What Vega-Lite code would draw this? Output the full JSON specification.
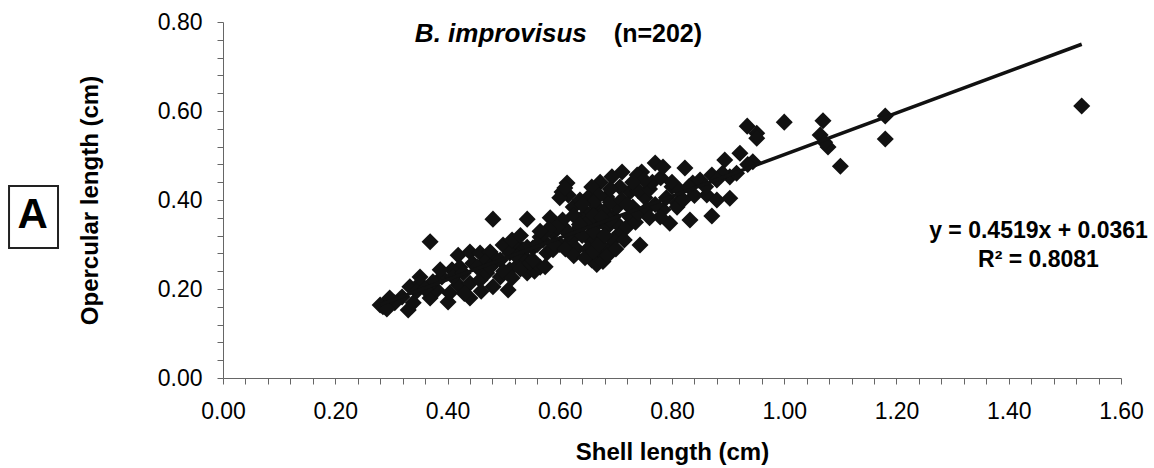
{
  "$schema": "https://vega.github.io/schema/vega-lite/v6.json",
  "width": 898,
  "height": 356,
  "autosize": {"type": "none"},
  "padding": {"left": 223, "top": 22, "right": 33, "bottom": 90},
  "background": "white",
  "config": {
    "view": {"stroke": null},
    "font": "Liberation Sans",
    "axis": {
      "grid": false,
      "domainColor": "#666",
      "tickColor": "#666",
      "domainWidth": 1,
      "tickWidth": 1,
      "tickSize": 6,
      "labelFont": "Liberation Sans",
      "labelFontSize": 23,
      "labelColor": "#000",
      "titleFont": "Liberation Sans",
      "titleFontSize": 24,
      "titleFontWeight": "bold",
      "titleColor": "#000",
      "labelFlush": false,
      "labelOverlap": false
    }
  },
  "datasets": {
    "points": [
      {"shell": 0.481, "operc": 0.357}, {"shell": 0.542, "operc": 0.357}, {"shell": 0.369, "operc": 0.306},
      {"shell": 0.419, "operc": 0.276}, {"shell": 0.44, "operc": 0.283}, {"shell": 0.458, "operc": 0.281},
      {"shell": 0.476, "operc": 0.283}, {"shell": 0.499, "operc": 0.299}, {"shell": 0.524, "operc": 0.299},
      {"shell": 0.535, "operc": 0.288}, {"shell": 0.511, "operc": 0.281}, {"shell": 0.488, "operc": 0.265},
      {"shell": 0.467, "operc": 0.261}, {"shell": 0.445, "operc": 0.258}, {"shell": 0.422, "operc": 0.249},
      {"shell": 0.408, "operc": 0.243}, {"shell": 0.39, "operc": 0.227}, {"shell": 0.351, "operc": 0.227},
      {"shell": 0.333, "operc": 0.205}, {"shell": 0.319, "operc": 0.182}, {"shell": 0.285, "operc": 0.16},
      {"shell": 0.28, "operc": 0.164}, {"shell": 0.33, "operc": 0.153}, {"shell": 0.369, "operc": 0.18},
      {"shell": 0.381, "operc": 0.198}, {"shell": 0.401, "operc": 0.171}, {"shell": 0.404, "operc": 0.191},
      {"shell": 0.419, "operc": 0.209}, {"shell": 0.44, "operc": 0.213}, {"shell": 0.44, "operc": 0.18},
      {"shell": 0.458, "operc": 0.22}, {"shell": 0.47, "operc": 0.236}, {"shell": 0.481, "operc": 0.205},
      {"shell": 0.494, "operc": 0.227}, {"shell": 0.508, "operc": 0.198}, {"shell": 0.511, "operc": 0.243},
      {"shell": 0.526, "operc": 0.254}, {"shell": 0.542, "operc": 0.236}, {"shell": 0.306, "operc": 0.169},
      {"shell": 0.339, "operc": 0.169}, {"shell": 0.297, "operc": 0.18}, {"shell": 0.351, "operc": 0.213},
      {"shell": 0.374, "operc": 0.216}, {"shell": 0.387, "operc": 0.243}, {"shell": 0.41, "operc": 0.227},
      {"shell": 0.428, "operc": 0.236}, {"shell": 0.453, "operc": 0.249}, {"shell": 0.476, "operc": 0.249},
      {"shell": 0.494, "operc": 0.265}, {"shell": 0.524, "operc": 0.272}, {"shell": 0.542, "operc": 0.265},
      {"shell": 0.292, "operc": 0.155}, {"shell": 0.345, "operc": 0.195}, {"shell": 0.36, "operc": 0.2},
      {"shell": 0.43, "operc": 0.19}, {"shell": 0.46, "operc": 0.195}, {"shell": 0.5, "operc": 0.24},
      {"shell": 0.515, "operc": 0.225}, {"shell": 0.53, "operc": 0.245}, {"shell": 0.55, "operc": 0.255},
      {"shell": 0.555, "operc": 0.24}, {"shell": 0.515, "operc": 0.31}, {"shell": 0.53, "operc": 0.32},
      {"shell": 0.77, "operc": 0.483}, {"shell": 0.746, "operc": 0.463}, {"shell": 0.738, "operc": 0.456},
      {"shell": 0.711, "operc": 0.463}, {"shell": 0.693, "operc": 0.452}, {"shell": 0.672, "operc": 0.44},
      {"shell": 0.657, "operc": 0.429}, {"shell": 0.65, "operc": 0.405}, {"shell": 0.613, "operc": 0.438},
      {"shell": 0.604, "operc": 0.418}, {"shell": 0.615, "operc": 0.411}, {"shell": 0.6, "operc": 0.405},
      {"shell": 0.583, "operc": 0.36}, {"shell": 0.743, "operc": 0.299}, {"shell": 0.796, "operc": 0.348},
      {"shell": 0.784, "operc": 0.378}, {"shell": 0.752, "operc": 0.405}, {"shell": 0.725, "operc": 0.418},
      {"shell": 0.707, "operc": 0.429}, {"shell": 0.684, "operc": 0.407}, {"shell": 0.666, "operc": 0.384},
      {"shell": 0.648, "operc": 0.37}, {"shell": 0.641, "operc": 0.355}, {"shell": 0.668, "operc": 0.348},
      {"shell": 0.695, "operc": 0.362}, {"shell": 0.707, "operc": 0.326}, {"shell": 0.677, "operc": 0.317},
      {"shell": 0.654, "operc": 0.31}, {"shell": 0.672, "operc": 0.281}, {"shell": 0.657, "operc": 0.265},
      {"shell": 0.689, "operc": 0.294}, {"shell": 0.631, "operc": 0.333}, {"shell": 0.606, "operc": 0.34},
      {"shell": 0.588, "operc": 0.326}, {"shell": 0.57, "operc": 0.31}, {"shell": 0.577, "operc": 0.281},
      {"shell": 0.552, "operc": 0.292}, {"shell": 0.547, "operc": 0.258}, {"shell": 0.565, "operc": 0.249},
      {"shell": 0.666, "operc": 0.255}, {"shell": 0.677, "operc": 0.262}, {"shell": 0.8, "operc": 0.43},
      {"shell": 0.79, "operc": 0.405}, {"shell": 0.809, "operc": 0.393}, {"shell": 0.779, "operc": 0.362},
      {"shell": 0.725, "operc": 0.362}, {"shell": 0.73, "operc": 0.384}, {"shell": 0.702, "operc": 0.384},
      {"shell": 0.624, "operc": 0.384}, {"shell": 0.636, "operc": 0.4}, {"shell": 0.609, "operc": 0.427},
      {"shell": 0.542, "operc": 0.294}, {"shell": 0.565, "operc": 0.317}, {"shell": 0.588, "operc": 0.288},
      {"shell": 0.552, "operc": 0.265}, {"shell": 0.574, "operc": 0.25},
      {"shell": 0.6, "operc": 0.3}, {"shell": 0.62, "operc": 0.31}, {"shell": 0.63, "operc": 0.29},
      {"shell": 0.615, "operc": 0.325}, {"shell": 0.64, "operc": 0.32}, {"shell": 0.66, "operc": 0.33},
      {"shell": 0.65, "operc": 0.29}, {"shell": 0.685, "operc": 0.34}, {"shell": 0.7, "operc": 0.35},
      {"shell": 0.695, "operc": 0.31}, {"shell": 0.72, "operc": 0.34}, {"shell": 0.715, "operc": 0.31},
      {"shell": 0.735, "operc": 0.35}, {"shell": 0.74, "operc": 0.37}, {"shell": 0.755, "operc": 0.38},
      {"shell": 0.76, "operc": 0.36}, {"shell": 0.77, "operc": 0.39}, {"shell": 0.68, "operc": 0.375},
      {"shell": 0.69, "operc": 0.395}, {"shell": 0.71, "operc": 0.4}, {"shell": 0.72, "operc": 0.39},
      {"shell": 0.74, "operc": 0.42}, {"shell": 0.76, "operc": 0.425}, {"shell": 0.765, "operc": 0.44},
      {"shell": 0.78, "operc": 0.45}, {"shell": 0.75, "operc": 0.445}, {"shell": 0.73, "operc": 0.44},
      {"shell": 0.69, "operc": 0.425}, {"shell": 0.67, "operc": 0.41}, {"shell": 0.66, "operc": 0.395},
      {"shell": 0.64, "operc": 0.39}, {"shell": 0.625, "operc": 0.365}, {"shell": 0.605, "operc": 0.355},
      {"shell": 0.595, "operc": 0.34}, {"shell": 0.58, "operc": 0.335}, {"shell": 0.565, "operc": 0.33},
      {"shell": 0.56, "operc": 0.3}, {"shell": 0.59, "operc": 0.3}, {"shell": 0.61, "operc": 0.29},
      {"shell": 0.625, "operc": 0.275}, {"shell": 0.645, "operc": 0.27}, {"shell": 0.66, "operc": 0.285},
      {"shell": 0.67, "operc": 0.3}, {"shell": 0.685, "operc": 0.275}, {"shell": 0.7, "operc": 0.29},
      {"shell": 0.68, "operc": 0.32}, {"shell": 0.69, "operc": 0.355}, {"shell": 0.65, "operc": 0.35},
      {"shell": 0.635, "operc": 0.345}, {"shell": 0.66, "operc": 0.365}, {"shell": 0.675, "operc": 0.36},
      {"shell": 0.934, "operc": 0.566}, {"shell": 0.951, "operc": 0.55}, {"shell": 0.951, "operc": 0.539},
      {"shell": 1.0, "operc": 0.575}, {"shell": 0.921, "operc": 0.505}, {"shell": 0.894, "operc": 0.49},
      {"shell": 0.944, "operc": 0.486}, {"shell": 0.871, "operc": 0.456}, {"shell": 0.823, "operc": 0.472},
      {"shell": 0.903, "operc": 0.452}, {"shell": 0.862, "operc": 0.411}, {"shell": 0.88, "operc": 0.4},
      {"shell": 0.903, "operc": 0.404}, {"shell": 0.832, "operc": 0.355}, {"shell": 0.871, "operc": 0.364},
      {"shell": 0.809, "operc": 0.384}, {"shell": 0.784, "operc": 0.474}, {"shell": 0.8, "operc": 0.44},
      {"shell": 0.837, "operc": 0.438}, {"shell": 0.85, "operc": 0.445}, {"shell": 0.814, "operc": 0.422},
      {"shell": 0.89, "operc": 0.46}, {"shell": 0.86, "operc": 0.43}, {"shell": 0.84, "operc": 0.41},
      {"shell": 0.82, "operc": 0.4}, {"shell": 0.915, "operc": 0.46}, {"shell": 0.935, "operc": 0.48},
      {"shell": 0.88, "operc": 0.445}, {"shell": 0.83, "operc": 0.43},
      {"shell": 1.069, "operc": 0.578}, {"shell": 1.064, "operc": 0.546}, {"shell": 1.078, "operc": 0.519},
      {"shell": 1.1, "operc": 0.476}, {"shell": 1.18, "operc": 0.589}, {"shell": 1.18, "operc": 0.537},
      {"shell": 1.072, "operc": 0.53}, {"shell": 1.53, "operc": 0.611}
    ],
    "fit": [
      {"shell": 0.28, "operc": 0.165},
      {"shell": 1.53, "operc": 0.75}
    ]
  },
  "layer": [
    {
      "data": {"name": "points"},
      "mark": {"type": "point", "shape": "diamond", "filled": true, "size": 290, "color": "#111", "opacity": 1, "clip": false},
      "encoding": {
        "x": {
          "field": "shell", "type": "quantitative",
          "scale": {"domain": [0, 1.6], "nice": false, "zero": true},
          "axis": {
            "title": "Shell length (cm)",
            "values": [0, 0.04, 0.08, 0.12, 0.16, 0.2, 0.24, 0.28, 0.32, 0.36, 0.4, 0.44, 0.48, 0.52, 0.56, 0.6, 0.64, 0.68, 0.72, 0.76, 0.8, 0.84, 0.88, 0.92, 0.96, 1.0, 1.04, 1.08, 1.12, 1.16, 1.2, 1.24, 1.28, 1.32, 1.36, 1.4, 1.44, 1.48, 1.52, 1.56, 1.6],
            "tickCount": 200,
            "labelExpr": "abs(datum.value*5 - round(datum.value*5)) < 0.001 ? format(datum.value, '.2f') : ''",
            "labelOverlap": false,
            "labelFlush": false,
            "tickSize": 6,
            "labelPadding": 16,
            "titlePadding": 17,
            "encode": {
              "ticks": {
                "update": {
                  "y": {"signal": "abs(datum.value*5 - round(datum.value*5)) < 0.001 ? -5 : 0"},
                  "y2": {"signal": "abs(datum.value*5 - round(datum.value*5)) < 0.001 ? 6 : -5"}
                }
              }
            }
          }
        },
        "y": {
          "field": "operc", "type": "quantitative",
          "scale": {"domain": [0, 0.8], "nice": false, "zero": true},
          "axis": {
            "title": "Opercular length (cm)",
            "values": [0, 0.04, 0.08, 0.12, 0.16, 0.2, 0.24, 0.28, 0.32, 0.36, 0.4, 0.44, 0.48, 0.52, 0.56, 0.6, 0.64, 0.68, 0.72, 0.76, 0.8],
            "tickCount": 200,
            "labelExpr": "abs(datum.value*5 - round(datum.value*5)) < 0.001 ? format(datum.value, '.2f') : ''",
            "labelOverlap": false,
            "tickSize": 6,
            "labelPadding": 15,
            "titlePadding": 55,
            "encode": {
              "ticks": {
                "update": {
                  "x": {"signal": "abs(datum.value*5 - round(datum.value*5)) < 0.001 ? 5 : 0"},
                  "x2": {"signal": "abs(datum.value*5 - round(datum.value*5)) < 0.001 ? -6 : 5"}
                }
              }
            }
          }
        }
      }
    },
    {
      "data": {"name": "fit"},
      "mark": {"type": "line", "color": "#111", "strokeWidth": 3.5, "clip": false},
      "encoding": {
        "x": {"field": "shell", "type": "quantitative"},
        "y": {"field": "operc", "type": "quantitative"}
      }
    },
    {
      "data": {"values": [{"shell": 0.495, "operc": 0.755, "label": "B. improvisus"}]},
      "mark": {"type": "text", "font": "Liberation Sans", "fontSize": 26, "fontWeight": "bold", "fontStyle": "italic", "align": "center", "baseline": "alphabetic", "color": "#000"},
      "encoding": {
        "x": {"field": "shell", "type": "quantitative"},
        "y": {"field": "operc", "type": "quantitative"},
        "text": {"field": "label"}
      }
    },
    {
      "data": {"values": [{"shell": 0.775, "operc": 0.755, "label": "(n=202)"}]},
      "mark": {"type": "text", "font": "Liberation Sans", "fontSize": 25, "fontWeight": "bold", "align": "center", "baseline": "alphabetic", "color": "#000"},
      "encoding": {
        "x": {"field": "shell", "type": "quantitative"},
        "y": {"field": "operc", "type": "quantitative"},
        "text": {"field": "label"}
      }
    },
    {
      "data": {"values": [
        {"shell": 1.453, "operc": 0.315, "label": "y = 0.4519x + 0.0361"},
        {"shell": 1.453, "operc": 0.249, "label": "R² = 0.8081"}
      ]},
      "mark": {"type": "text", "font": "Liberation Sans", "fontSize": 23, "fontWeight": "bold", "align": "center", "baseline": "alphabetic", "color": "#000"},
      "encoding": {
        "x": {"field": "shell", "type": "quantitative"},
        "y": {"field": "operc", "type": "quantitative"},
        "text": {"field": "label"}
      }
    },
    {
      "data": {"values": [{"shell": -0.3376, "operc": 0.3618, "label": "A"}]},
      "mark": {"type": "point", "shape": "M-0.79,-1H0.79V1H-0.79Z", "size": 3844, "filled": false, "stroke": "#222", "strokeWidth": 2, "opacity": 1, "clip": false},
      "encoding": {
        "x": {"field": "shell", "type": "quantitative"},
        "y": {"field": "operc", "type": "quantitative"}
      }
    },
    {
      "data": {"values": [{"shell": -0.339, "operc": 0.337, "label": "A"}]},
      "mark": {"type": "text", "font": "Liberation Sans", "fontSize": 42, "fontWeight": "bold", "align": "center", "baseline": "alphabetic", "color": "#000"},
      "encoding": {
        "x": {"field": "shell", "type": "quantitative"},
        "y": {"field": "operc", "type": "quantitative"},
        "text": {"field": "label"}
      }
    }
  ]
}
